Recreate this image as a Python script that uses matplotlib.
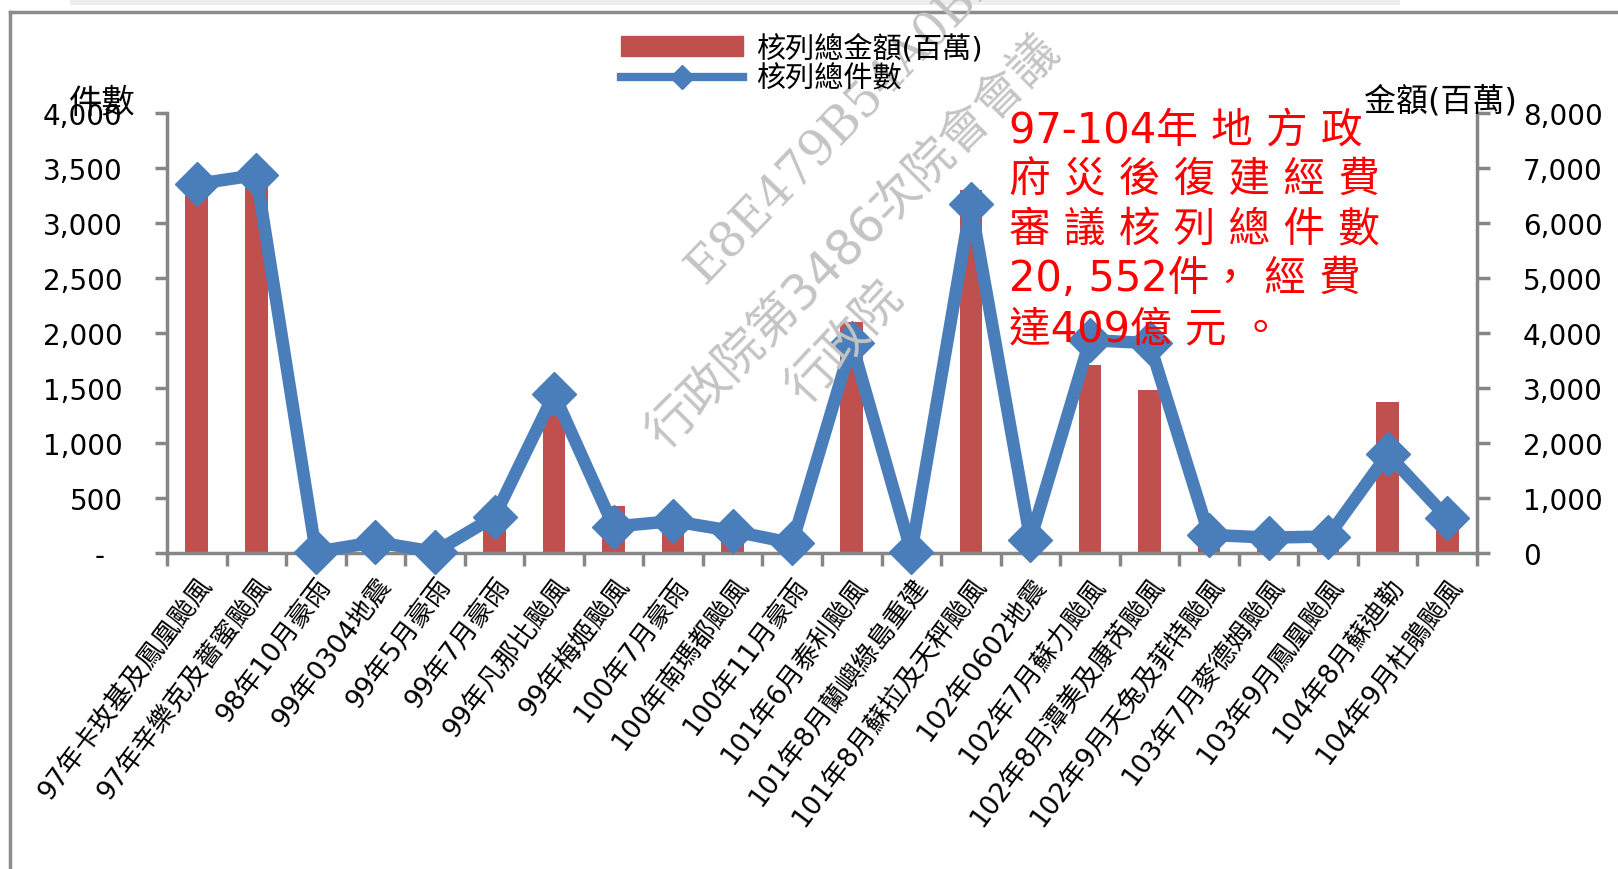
import matplotlib
matplotlib.use('Agg')
import matplotlib.pyplot as plt
from matplotlib.lines import Line2D
from matplotlib.patches import Patch, Rectangle
import numpy as np

plt.rcParams['font.family'] = ['DejaVu Sans', 'Noto Sans CJK TC']

events = ['97年卡玫基及鳳凰颱風', '97年辛樂克及薔蜜颱風', '98年10月豪雨', '99年0304地震',
          '99年5月豪雨', '99年7月豪雨', '99年凡那比颱風', '99年梅姬颱風', '100年7月豪雨',
          '100年南瑪都颱風', '100年11月豪雨', '101年6月泰利颱風', '101年8月蘭嶼綠島重建',
          '101年8月蘇拉及天秤颱風', '102年0602地震', '102年7月蘇力颱風', '102年8月潭美及康芮颱風',
          '102年9月天兔及菲特颱風', '103年7月麥德姆颱風', '103年9月鳳凰颱風', '104年8月蘇迪勒',
          '104年9月杜鵑颱風']
# 核列總金額 (百萬) - right axis
amounts = [6550, 6840, 20, 80, 0, 720, 2660, 850, 610, 420, 50, 4200, 120, 6600, 150,
           3410, 2970, 350, 320, 330, 2750, 650]
# 核列總件數 - left axis
counts = [3355, 3436, 10, 100, 10, 330, 1445, 240, 290, 200, 90, 1908, 10, 3170, 120,
          1935, 1908, 165, 140, 150, 900, 320]

left_ticks = [0, 500, 1000, 1500, 2000, 2500, 3000, 3500, 4000]
left_labels = ['-  ', '500', '1,000', '1,500', '2,000', '2,500', '3,000', '3,500', '4,000']
right_ticks = [0, 1000, 2000, 3000, 4000, 5000, 6000, 7000, 8000]
right_labels = ['0', '1,000', '2,000', '3,000', '4,000', '5,000', '6,000', '7,000', '8,000']

note_lines = ['97-104年 地 方 政', '府 災 後 復 建 經 費', '審 議 核 列 總 件 數',
              '20, 552件， 經 費', '達409億 元 。']

BAR_C = '#C0504D'
LINE_C = '#4A7EBB'
AX_C = '#868686'
W, H = 1618, 870

fig = plt.figure(figsize=(W / 100, H / 100), dpi=100)

# outer frame lines
fig.add_artist(Rectangle((70 / W, 1 - 6 / H), 1330 / W, 6 / H, transform=fig.transFigure,
                         color='#EEEEEE', lw=0))
fig.add_artist(Line2D([10 / W, 10 / W], [0, 1 - 13 / H], transform=fig.transFigure,
                      color='#8C8C8C', lw=2.5))
fig.add_artist(Line2D([10 / W, 1], [1 - 13 / H, 1 - 13 / H], transform=fig.transFigure,
                      color='#8C8C8C', lw=2.5))

ax = fig.add_axes([167 / W, 1 - 554 / H, (1477 - 167) / W, (554 - 114) / H])
x = np.arange(len(events))
ax.bar(x, amounts, width=0.38, color=BAR_C, zorder=2)
ax.set_ylim(0, 8000)
ax.set_xlim(-0.5, len(events) - 0.5)

ax2 = ax.twinx()
ax2.plot(x, counts, color=LINE_C, lw=9, marker='D', ms=22, clip_on=False, zorder=3)
ax2.set_ylim(0, 4000)
ax2.set_yticks(left_ticks)
ax2.set_yticklabels(left_labels)
ax2.yaxis.tick_left()

ax.yaxis.tick_right()
ax.set_yticks(right_ticks)
ax.set_yticklabels(right_labels)

for a in (ax, ax2):
    for s in a.spines.values():
        s.set_visible(False)
for s in ('left', 'right', 'bottom'):
    ax.spines[s].set_visible(True)
    ax.spines[s].set_color(AX_C)
    ax.spines[s].set_linewidth(2.5)

ax.tick_params(axis='y', direction='out', length=9, width=2.5, color=AX_C,
               labelsize=20, pad=24)
ax2.tick_params(axis='y', direction='out', length=9, width=2.5, color=AX_C,
                labelsize=20, pad=23)

ax.set_xticks(x)
ax.set_xticklabels(events, rotation=53, ha='right', va='top', rotation_mode='anchor',
                   fontsize=19)
ax.set_xticks(np.arange(-0.5, len(events)), minor=True)
ax.tick_params(axis='x', which='major', length=0, pad=14)
ax.tick_params(axis='x', which='minor', direction='out', length=9, width=2.5, color=AX_C)

# axis titles
fig.text(102 / W, 1 - 104 / H, '件數', fontsize=24, ha='center', va='center')
fig.text(1517 / W, 1 - 102 / H, '金額(百萬)', fontsize=23, ha='right', va='center')

# legend
handles = [Patch(color=BAR_C), Line2D([], [], color=LINE_C, lw=6, marker='D', ms=12)]
fig.legend(handles, ['核列總金額(百萬)', '核列總件數'], loc='upper left',
           bbox_to_anchor=(606 / W, 1 - 20 / H), frameon=False, fontsize=21,
           handlelength=4.2, handletextpad=0.45, labelspacing=0.1, borderpad=0)

# watermark
wm_c = '#C4C4C4'
fig.text(705 / W, 1 - 286 / H, 'E8E479B54A0BBD', rotation=46, rotation_mode='anchor',
         fontsize=35, color=wm_c, ha='left', va='baseline', family='DejaVu Serif')
fig.text(665 / W, 1 - 450 / H, '行政院第3486次院會會議', rotation=45, rotation_mode='anchor',
         fontsize=35, color=wm_c, ha='left', va='baseline')
fig.text(806 / W, 1 - 405 / H, '行政院', rotation=47, rotation_mode='anchor',
         fontsize=35, color=wm_c, ha='left', va='baseline')

# annotation
for i, line in enumerate(note_lines):
    fig.text(1009 / W, 1 - (110 + 49.5 * i) / H, line, fontsize=30, color='#FF0000',
             ha='left', va='top', family=['DejaVu Sans', 'Noto Sans CJK TC'])

fig.savefig('out.png', dpi=100)
